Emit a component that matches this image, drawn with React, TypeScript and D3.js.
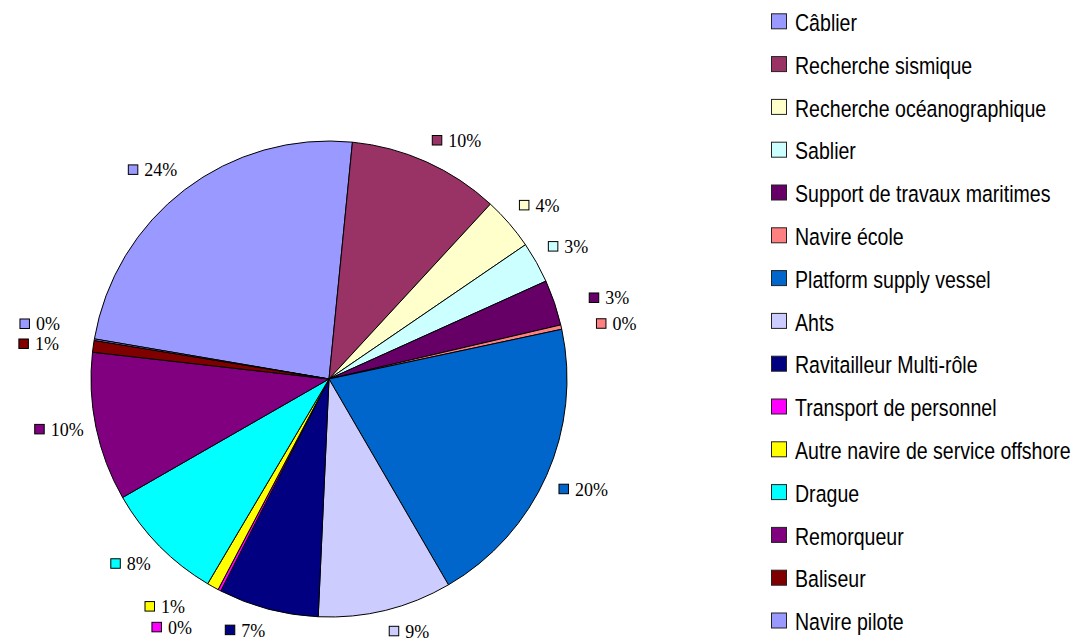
import React from 'react'
import * as d3 from 'd3'

const categories = [
  'Câblier',
  'Recherche sismique',
  'Recherche océanographique',
  'Sablier',
  'Support de travaux maritimes',
  'Navire école',
  'Platform supply vessel',
  'Ahts',
  'Ravitailleur Multi-rôle',
  'Transport de personnel',
  'Autre navire de service offshore',
  'Drague',
  'Remorqueur',
  'Baliseur',
  'Navire pilote',
]
const shares = [23.9, 10.3, 3.6, 2.8, 3.1, 0.3, 20.0, 9.1, 6.8, 0.2, 0.8, 8.2, 10.1, 0.8, 0.1]
const colors = [
  '#9999ff', '#993366', '#ffffcc', '#ccffff', '#660066', '#ff8080', '#0066cc', '#ccccff',
  '#000080', '#ff00ff', '#ffff00', '#00ffff', '#800080', '#800000', '#9999ff',
]

const width = 1082
const height = 642
const cx = 329
const cy = 379
const radius = 238
const labelR = radius + 13
const boxH = 18
const deg = Math.PI / 180

// rough widths of Liberation Serif 18px
const textW = (t: string) => t.split('').reduce((s, c) => s + (c === '%' ? 15 : 9), 0)

type Label = { i: number; a: number; dx: number; dy: number; text: string; w: number; v: number }
type Box = { x0: number; y0: number; x1: number; y1: number }

const boxOf = (l: Label): Box => {
  const px = cx + labelR * Math.sin(l.a)
  const py = cy - labelR * Math.cos(l.a)
  let m = (90 - l.a / deg) % 360
  if (m < 0) m += 360
  let x0: number, y0: number
  if (m <= 22.5 || m >= 337.5) {
    x0 = px
    y0 = py - boxH / 2
  } else if (m >= 157.5 && m <= 202.5) {
    x0 = px - l.w
    y0 = py - boxH / 2
  } else {
    x0 = m < 90 || m > 270 ? px : px - l.w
    y0 = m < 180 ? py - boxH : py
  }
  x0 += l.dx
  y0 += l.dy
  return { x0, y0, x1: x0 + l.w, y1: y0 + boxH }
}

const overlap = (a: Box, b: Box, padX = 2, padY = 2) =>
  a.x0 < b.x1 + padX && b.x0 < a.x1 + padX && a.y0 < b.y1 + padY && b.y0 < a.y1 + padY

export default function App() {
  const total = d3.sum(shares)
  const start = -80.3 * deg
  const pie = d3
    .pie<number>()
    .sort(null)
    .value((d) => d)
    .startAngle(start)
    .endAngle(start + 2 * Math.PI)
  const arcs = pie(shares)
  const arc = d3.arc<d3.PieArcDatum<number>>().innerRadius(0).outerRadius(radius)

  const labels: Label[] = arcs.map((a, i) => {
    const text = `${Math.round((a.data / total) * 100)}%`
    return { i, a: (a.startAngle + a.endAngle) / 2, dx: 0, dy: 0, text, w: 16 + textW(text), v: a.data }
  })

  // crowded neighbours are pushed further out sideways
  const crowded = new Set<Label>()
  for (let i = 0; i < labels.length; i++)
    for (let j = i + 1; j < labels.length; j++)
      if (overlap(boxOf(labels[i]), boxOf(labels[j]), 2, 10)) {
        crowded.add(labels[i])
        crowded.add(labels[j])
      }
  crowded.forEach((l) => (l.dx = Math.sin(l.a) > 0 ? 22 : -22))

  // then the smaller slice's label moves away vertically
  for (let it = 0; it < 200; it++) {
    let moved = false
    for (let i = 0; i < labels.length; i++) {
      for (let j = i + 1; j < labels.length; j++) {
        const bi = boxOf(labels[i])
        const bj = boxOf(labels[j])
        if (overlap(bi, bj)) {
          moved = true
          const small = labels[i].v <= labels[j].v ? labels[i] : labels[j]
          const other = small === labels[i] ? labels[j] : labels[i]
          const bs = boxOf(small)
          const bo = boxOf(other)
          small.dy += bs.y0 + bs.y1 >= bo.y0 + bo.y1 ? 1 : -1
        }
      }
    }
    if (!moved) break
  }

  const legendY = (i: number) => 21.3 + i * 42.8

  return (
    <svg
      width={width}
      height={height}
      style={{ position: 'absolute', left: 0, top: 0, background: '#fff' }}
    >
      <g>
        {arcs.map((a, i) => (
          <path key={i} d={arc(a) as string} transform={`translate(${cx},${cy})`} fill={colors[i]} stroke="#000" strokeWidth={1} strokeLinejoin="round" />
        ))}
      </g>
      <g fontFamily="'Liberation Serif', 'Times New Roman', serif" fontSize={18} fill="#000">
        {labels.map((l) => {
          const b = boxOf(l)
          return (
            <g key={l.i}>
              <rect x={b.x0 + 0.5} y={b.y0 + 3.5} width={9.5} height={9.5} fill={colors[l.i]} stroke="#000" strokeWidth={1} />
              <text x={b.x0 + 16.5} y={b.y0 + 15}>
                {l.text}
              </text>
            </g>
          )
        })}
      </g>
      <g fontFamily="'Liberation Sans', Arial, sans-serif" fontSize={23.3} fill="#000">
        {categories.map((c, i) => (
          <g key={c}>
            <rect x={771.5} y={legendY(i) - 7.5} width={15} height={15} fill={colors[i]} stroke="#222" strokeWidth={1} />
            <text transform={`translate(795, ${legendY(i) + 9.7}) scale(0.84, 1)`}>{c}</text>
          </g>
        ))}
      </g>
    </svg>
  )
}
